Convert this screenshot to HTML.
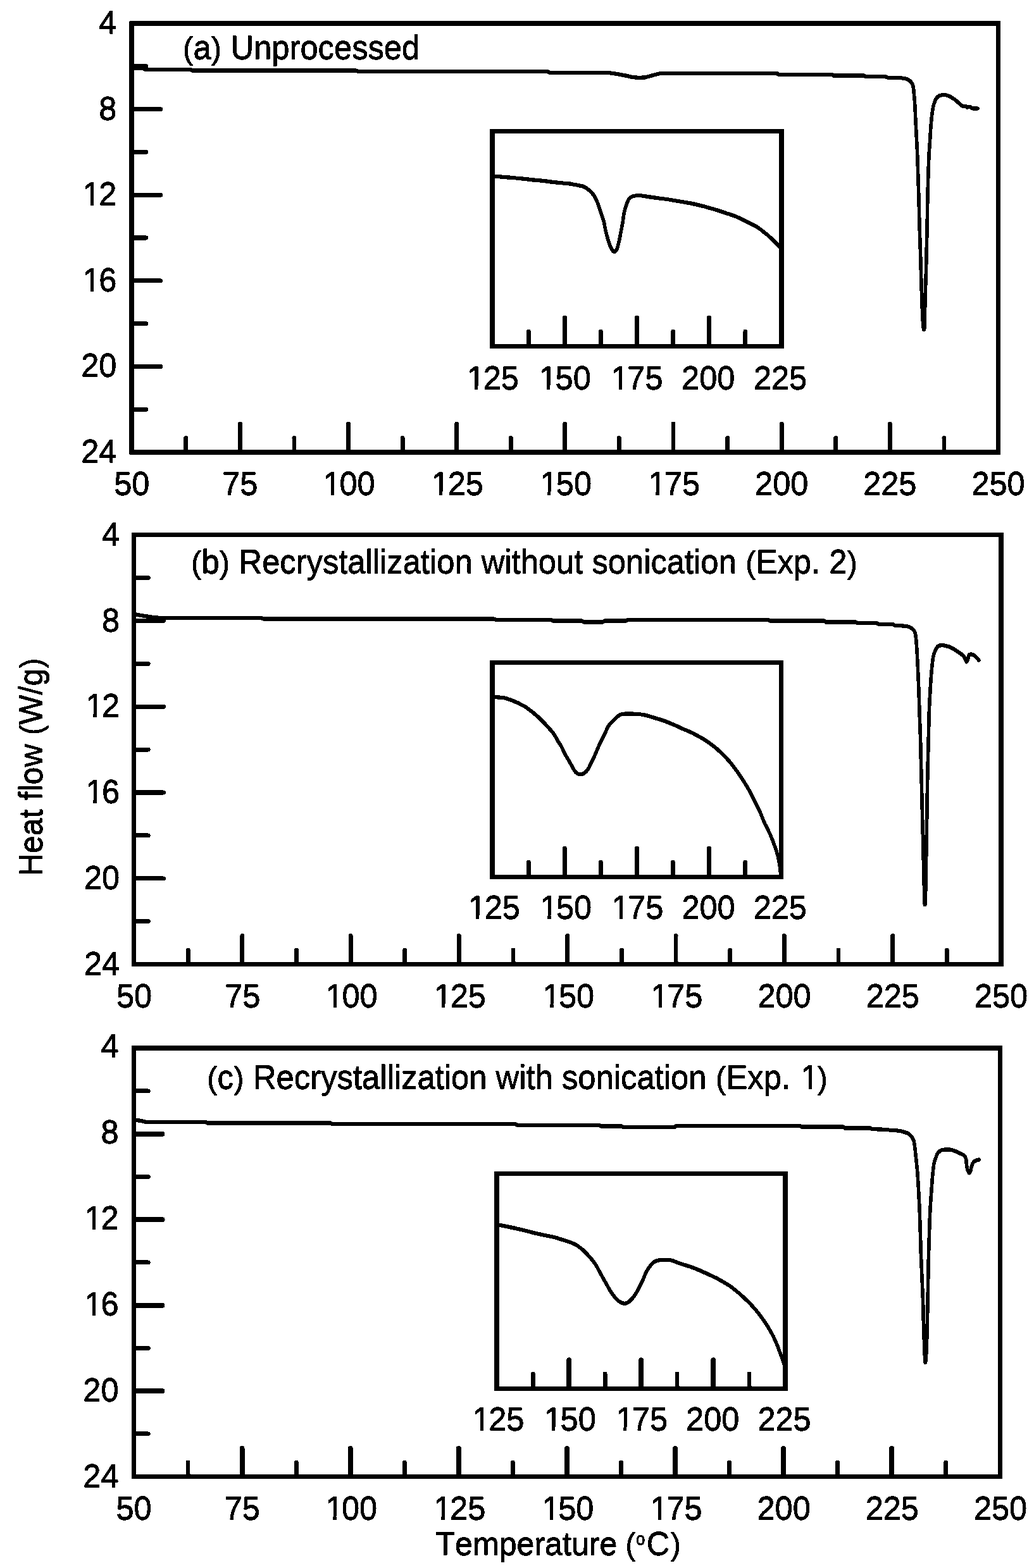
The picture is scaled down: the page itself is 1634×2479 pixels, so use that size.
<!DOCTYPE html>
<html lang="en">
<head>
<meta charset="utf-8">
<title>DSC thermograms: heat flow versus temperature</title>
<style>
html,body{margin:0;padding:0;background:#fff;}
body{width:1634px;height:2479px;overflow:hidden;}
svg{display:block;}
text{font-family:"Liberation Sans",sans-serif;fill:#000;stroke:#000;stroke-width:0.3px;stroke-linejoin:round;font-kerning:none;font-variant-ligatures:none;filter:url(#tb);}
</style>
</head>
<body>
<svg width="1634" height="2479" viewBox="0 0 1634 2479">
<defs>
<filter id="tb" x="-5%" y="-30%" width="110%" height="160%" color-interpolation-filters="sRGB">
<feOffset in="SourceGraphic" dx="0" dy="-0.9" result="o"/>
<feMerge><feMergeNode in="SourceGraphic"/><feMergeNode in="o"/></feMerge>
</filter>
<filter id="cs" x="0" y="0" width="1634" height="2479" filterUnits="userSpaceOnUse" color-interpolation-filters="sRGB">
<feOffset in="SourceGraphic" dx="0" dy="-0.8" result="o"/>
<feMerge><feMergeNode in="SourceGraphic"/><feMergeNode in="o"/></feMerge>
</filter>
<filter id="bw" x="0" y="0" width="1634" height="2479" filterUnits="userSpaceOnUse" color-interpolation-filters="sRGB">
<feComponentTransfer>
<feFuncR type="discrete" tableValues="0 1"/>
<feFuncG type="discrete" tableValues="0 1"/>
<feFuncB type="discrete" tableValues="0 1"/>
</feComponentTransfer>
</filter>
</defs>
<g filter="url(#bw)">
<rect x="0" y="0" width="1634" height="2479" fill="#fff"/>
<path d="M208.0,107.5L226.0,108.0L229.0,110.0L301.0,110.0L303.0,111.6L563.0,111.6L565.0,112.7L865.0,112.9L868.0,114.8L960.0,114.9L968.0,116.0L976.0,117.2L988.0,119.5L1000.0,122.3L1010.0,123.0L1020.0,122.4L1030.0,119.5L1041.0,116.6L1050.0,116.0L1228.0,116.0L1230.0,117.9L1315.0,117.9L1317.0,119.8L1366.0,119.8L1368.0,121.2L1399.4,121.3L1402.2,122.6L1420.7,123.1C1422.2,123.3 1427.5,123.6 1430.0,124.1C1432.5,124.6 1433.8,125.2 1435.5,126.3C1437.2,127.4 1438.9,128.9 1440.1,130.5C1441.3,132.1 1442.2,133.5 1442.9,136.1C1443.6,138.7 1443.7,141.5 1444.2,146.3C1444.7,151.1 1445.2,157.1 1445.7,164.8C1446.2,172.5 1446.5,183.2 1447.0,192.5C1447.5,201.8 1448.0,211.1 1448.5,220.3C1449.0,229.6 1449.4,237.2 1449.8,248.0C1450.2,258.8 1450.6,272.7 1451.0,285.0C1451.4,297.3 1451.9,309.7 1452.2,322.0C1452.5,334.3 1452.7,346.7 1453.1,359.0C1453.5,371.3 1454.0,383.7 1454.4,396.0C1454.8,408.3 1455.1,420.7 1455.5,433.0C1455.9,445.3 1456.2,459.2 1456.6,470.0C1457.0,480.8 1457.3,489.8 1457.7,497.8C1458.1,505.8 1458.8,514.2 1459.2,518.1C1459.6,522.0 1459.6,520.9 1459.9,520.9C1460.2,520.9 1460.7,522.0 1460.9,518.1C1461.2,514.2 1461.2,505.8 1461.4,497.8C1461.6,489.8 1461.8,480.8 1462.1,470.0C1462.4,459.2 1462.9,445.3 1463.3,433.0C1463.7,420.7 1463.9,408.3 1464.2,396.0C1464.5,383.7 1464.8,371.3 1465.1,359.0C1465.3,346.7 1465.5,334.3 1465.7,322.0C1466.0,309.7 1466.2,297.3 1466.6,285.0C1467.0,272.7 1467.4,258.8 1467.9,248.0C1468.4,237.2 1469.1,229.6 1469.7,220.3C1470.3,211.1 1470.8,200.8 1471.6,192.5C1472.4,184.2 1473.5,175.6 1474.4,170.3C1475.3,165.1 1476.2,163.5 1477.1,161.0C1478.0,158.5 1478.8,157.0 1479.9,155.5C1481.0,154.0 1482.2,152.7 1483.6,151.8C1485.0,150.9 1486.3,150.6 1488.2,150.3C1490.1,150.1 1492.7,150.0 1494.7,150.3C1496.7,150.6 1498.5,151.3 1500.3,152.2C1502.1,153.1 1503.9,154.3 1505.8,155.5C1507.7,156.7 1509.6,158.0 1511.4,159.6C1513.2,161.2 1515.4,163.5 1516.9,164.8C1518.4,166.1 1519.0,166.9 1520.6,167.5C1522.1,168.1 1524.8,167.7 1526.2,168.1C1527.6,168.5 1527.8,169.8 1528.9,169.9C1530.0,170.0 1531.4,168.6 1532.6,168.8C1533.8,169.0 1534.2,170.7 1536.3,171.2C1538.4,171.7 1543.7,171.5 1545.2,171.6" transform="translate(0,0.40)" fill="none" stroke="#000" stroke-width="5.2" stroke-linejoin="round" stroke-linecap="round" filter="url(#cs)"/>
<rect x="208.20" y="36.90" width="1369.30" height="678.20" fill="none" stroke="#000" stroke-width="7.4" stroke-linejoin="miter"/>
<line x1="293.78" y1="711.70" x2="293.78" y2="692.30" stroke="#000" stroke-width="6.8" stroke-linecap="round"/>
<line x1="379.36" y1="711.70" x2="379.36" y2="669.80" stroke="#000" stroke-width="6.8" stroke-linecap="round"/>
<line x1="464.94" y1="711.70" x2="464.94" y2="692.30" stroke="#000" stroke-width="6.8" stroke-linecap="round"/>
<line x1="550.52" y1="711.70" x2="550.52" y2="669.80" stroke="#000" stroke-width="6.8" stroke-linecap="round"/>
<line x1="636.11" y1="711.70" x2="636.11" y2="692.30" stroke="#000" stroke-width="6.8" stroke-linecap="round"/>
<line x1="721.69" y1="711.70" x2="721.69" y2="669.80" stroke="#000" stroke-width="6.8" stroke-linecap="round"/>
<line x1="807.27" y1="711.70" x2="807.27" y2="692.30" stroke="#000" stroke-width="6.8" stroke-linecap="round"/>
<line x1="892.85" y1="711.70" x2="892.85" y2="669.80" stroke="#000" stroke-width="6.8" stroke-linecap="round"/>
<line x1="978.43" y1="711.70" x2="978.43" y2="692.30" stroke="#000" stroke-width="6.8" stroke-linecap="round"/>
<line x1="1064.01" y1="711.70" x2="1064.01" y2="669.80" stroke="#000" stroke-width="6.8" stroke-linecap="round"/>
<line x1="1149.59" y1="711.70" x2="1149.59" y2="692.30" stroke="#000" stroke-width="6.8" stroke-linecap="round"/>
<line x1="1235.17" y1="711.70" x2="1235.17" y2="669.80" stroke="#000" stroke-width="6.8" stroke-linecap="round"/>
<line x1="1320.76" y1="711.70" x2="1320.76" y2="692.30" stroke="#000" stroke-width="6.8" stroke-linecap="round"/>
<line x1="1406.34" y1="711.70" x2="1406.34" y2="669.80" stroke="#000" stroke-width="6.8" stroke-linecap="round"/>
<line x1="1491.92" y1="711.70" x2="1491.92" y2="692.30" stroke="#000" stroke-width="6.8" stroke-linecap="round"/>
<line x1="211.60" y1="104.72" x2="231.00" y2="104.72" stroke="#000" stroke-width="6.8" stroke-linecap="round"/>
<line x1="211.60" y1="172.54" x2="253.80" y2="172.54" stroke="#000" stroke-width="6.8" stroke-linecap="round"/>
<line x1="211.60" y1="240.36" x2="231.00" y2="240.36" stroke="#000" stroke-width="6.8" stroke-linecap="round"/>
<line x1="211.60" y1="308.18" x2="253.80" y2="308.18" stroke="#000" stroke-width="6.8" stroke-linecap="round"/>
<line x1="211.60" y1="376.00" x2="231.00" y2="376.00" stroke="#000" stroke-width="6.8" stroke-linecap="round"/>
<line x1="211.60" y1="443.82" x2="253.80" y2="443.82" stroke="#000" stroke-width="6.8" stroke-linecap="round"/>
<line x1="211.60" y1="511.64" x2="231.00" y2="511.64" stroke="#000" stroke-width="6.8" stroke-linecap="round"/>
<line x1="211.60" y1="579.46" x2="253.80" y2="579.46" stroke="#000" stroke-width="6.8" stroke-linecap="round"/>
<line x1="211.60" y1="647.28" x2="231.00" y2="647.28" stroke="#000" stroke-width="6.8" stroke-linecap="round"/>
<text transform="translate(208.20,783.00) scale(1,1.04)" text-anchor="middle" font-size="50.5">50</text>
<text transform="translate(379.36,783.00) scale(1,1.04)" text-anchor="middle" font-size="50.5">75</text>
<g transform="translate(550.52,783.00) scale(1,1.04)"><text x="-1.20" text-anchor="middle" font-size="50.5"><tspan dx="2.4">1</tspan><tspan dx="-2.4">00</tspan></text><rect x="-36.83" y="-5.72" width="9.15" height="7.37" fill="#fff"/><rect x="-22.42" y="-5.72" width="9.26" height="7.37" fill="#fff"/></g>
<g transform="translate(721.69,783.00) scale(1,1.04)"><text x="-1.20" text-anchor="middle" font-size="50.5"><tspan dx="2.4">1</tspan><tspan dx="-2.4">25</tspan></text><rect x="-36.83" y="-5.72" width="9.15" height="7.37" fill="#fff"/><rect x="-22.42" y="-5.72" width="9.26" height="7.37" fill="#fff"/></g>
<g transform="translate(892.85,783.00) scale(1,1.04)"><text x="-1.20" text-anchor="middle" font-size="50.5"><tspan dx="2.4">1</tspan><tspan dx="-2.4">50</tspan></text><rect x="-36.83" y="-5.72" width="9.15" height="7.37" fill="#fff"/><rect x="-22.42" y="-5.72" width="9.26" height="7.37" fill="#fff"/></g>
<g transform="translate(1064.01,783.00) scale(1,1.04)"><text x="-1.20" text-anchor="middle" font-size="50.5"><tspan dx="2.4">1</tspan><tspan dx="-2.4">75</tspan></text><rect x="-36.83" y="-5.72" width="9.15" height="7.37" fill="#fff"/><rect x="-22.42" y="-5.72" width="9.26" height="7.37" fill="#fff"/></g>
<text transform="translate(1235.17,783.00) scale(1,1.04)" text-anchor="middle" font-size="50.5">200</text>
<text transform="translate(1406.34,783.00) scale(1,1.04)" text-anchor="middle" font-size="50.5">225</text>
<text transform="translate(1577.50,783.00) scale(1,1.04)" text-anchor="middle" font-size="50.5">250</text>
<text transform="translate(184.40,54.00) scale(1,1.04)" text-anchor="end" font-size="50.5">4</text>
<text transform="translate(184.40,189.54) scale(1,1.04)" text-anchor="end" font-size="50.5">8</text>
<g transform="translate(184.40,325.08) scale(1,1.04)"><text x="-2.40" text-anchor="end" font-size="50.5"><tspan dx="2.4">1</tspan><tspan dx="-2.4">2</tspan></text><rect x="-50.87" y="-5.72" width="9.15" height="7.37" fill="#fff"/><rect x="-36.46" y="-5.72" width="9.26" height="7.37" fill="#fff"/></g>
<g transform="translate(184.40,460.62) scale(1,1.04)"><text x="-2.40" text-anchor="end" font-size="50.5"><tspan dx="2.4">1</tspan><tspan dx="-2.4">6</tspan></text><rect x="-50.87" y="-5.72" width="9.15" height="7.37" fill="#fff"/><rect x="-36.46" y="-5.72" width="9.26" height="7.37" fill="#fff"/></g>
<text transform="translate(184.40,596.16) scale(1,1.04)" text-anchor="end" font-size="50.5">20</text>
<text transform="translate(184.40,731.70) scale(1,1.04)" text-anchor="end" font-size="50.5">24</text>
<text transform="translate(288.50,93.75) scale(1,1.04)" text-anchor="start" font-size="50.7"><tspan dx="0.46" font-size="47.91">(</tspan><tspan dx="0.46">a</tspan><tspan dx="0.46" font-size="47.91">)</tspan><tspan dx="0.46"> Unprocessed</tspan></text>
<clipPath id="ca"><rect x="778.1" y="207.7" width="456.9" height="340.09999999999997"/></clipPath>
<g clip-path="url(#ca)"><path d="M778.0,279.0C780.1,279.1 785.7,279.1 790.7,279.5C795.8,279.9 802.7,280.6 808.3,281.1C813.9,281.6 818.8,281.8 824.3,282.4C829.8,282.9 835.5,283.8 841.2,284.4C847.0,285.0 854.3,285.5 858.8,286.0C863.3,286.5 864.0,286.7 868.0,287.2C872.0,287.7 877.7,288.5 882.5,289.0C887.3,289.5 892.7,289.8 897.0,290.3C901.3,290.8 904.5,291.4 908.5,292.1C912.5,292.8 917.6,293.7 920.8,294.7C924.0,295.7 925.7,296.8 927.7,298.2C929.7,299.6 931.2,301.0 933.0,302.8C934.8,304.6 936.9,306.7 938.4,308.9C939.9,311.1 941.1,313.4 942.2,315.8C943.4,318.2 944.3,320.7 945.3,323.5C946.3,326.3 947.3,329.6 948.3,332.7C949.3,335.8 950.4,338.8 951.4,341.8C952.4,344.9 953.6,347.7 954.4,351.0C955.2,354.3 955.6,358.1 956.4,361.7C957.2,365.3 958.1,369.1 959.0,372.4C959.9,375.7 960.7,378.8 961.6,381.6C962.5,384.4 963.4,387.0 964.4,389.3C965.4,391.6 966.4,393.9 967.5,395.4C968.6,396.9 969.7,398.2 970.8,398.2C971.9,398.2 973.3,397.1 974.3,395.4C975.3,393.7 975.8,390.6 976.6,387.8C977.4,385.0 978.2,381.9 978.9,378.6C979.6,375.3 980.2,371.5 980.9,367.9C981.6,364.3 982.5,360.4 983.1,357.1C983.7,353.8 984.2,351.1 984.6,348.0C985.0,344.9 985.2,341.9 985.8,338.8C986.4,335.7 987.2,332.7 988.1,329.6C989.0,326.5 990.2,322.9 991.2,320.4C992.2,317.8 992.8,315.9 994.2,314.3C995.6,312.7 997.7,311.3 999.6,310.5C1001.5,309.7 1004.1,309.7 1005.7,309.4C1007.3,309.1 1006.8,308.7 1009.2,308.9C1011.6,309.1 1015.0,309.8 1019.9,310.5C1024.8,311.2 1031.9,312.2 1038.3,313.1C1044.7,314.0 1051.8,314.8 1058.2,315.8C1064.6,316.8 1070.4,317.8 1076.5,318.9C1082.6,320.0 1088.8,320.9 1094.9,322.2C1101.0,323.5 1107.2,324.9 1113.3,326.5C1119.4,328.1 1125.5,330.0 1131.6,331.9C1137.7,333.8 1144.4,336.1 1150.0,338.0C1155.6,339.9 1160.2,341.2 1165.3,343.4C1170.4,345.6 1175.5,348.4 1180.6,351.0C1185.7,353.6 1191.3,355.9 1195.9,358.7C1200.5,361.5 1204.4,364.8 1208.2,367.9C1212.0,370.9 1215.9,374.2 1218.9,377.0C1222.0,379.8 1224.5,382.6 1226.5,384.7C1228.5,386.8 1229.5,387.8 1231.1,389.3C1232.7,390.9 1235.2,393.2 1236.0,394.0" transform="translate(0,0.40)" fill="none" stroke="#000" stroke-width="5.2" stroke-linejoin="round" stroke-linecap="round" filter="url(#cs)"/></g>
<rect x="778.10" y="207.70" width="456.90" height="340.10" fill="none" stroke="#000" stroke-width="7.4" stroke-linejoin="miter"/>
<line x1="835.21" y1="544.40" x2="835.21" y2="524.20" stroke="#000" stroke-width="6.8" stroke-linecap="round"/>
<line x1="892.33" y1="544.20" x2="892.33" y2="502.10" stroke="#000" stroke-width="7.2" stroke-linecap="round"/>
<line x1="949.44" y1="544.40" x2="949.44" y2="524.20" stroke="#000" stroke-width="6.8" stroke-linecap="round"/>
<line x1="1006.55" y1="544.20" x2="1006.55" y2="502.10" stroke="#000" stroke-width="7.2" stroke-linecap="round"/>
<line x1="1063.66" y1="544.40" x2="1063.66" y2="524.20" stroke="#000" stroke-width="6.8" stroke-linecap="round"/>
<line x1="1120.78" y1="544.20" x2="1120.78" y2="502.10" stroke="#000" stroke-width="7.2" stroke-linecap="round"/>
<line x1="1177.89" y1="544.40" x2="1177.89" y2="524.20" stroke="#000" stroke-width="6.8" stroke-linecap="round"/>
<g transform="translate(777.80,615.60) scale(1,1.04)"><text x="-1.20" text-anchor="middle" font-size="50.5"><tspan dx="2.4">1</tspan><tspan dx="-2.4">25</tspan></text><rect x="-36.83" y="-5.72" width="9.15" height="7.37" fill="#fff"/><rect x="-22.42" y="-5.72" width="9.26" height="7.37" fill="#fff"/></g>
<g transform="translate(891.60,615.60) scale(1,1.04)"><text x="-1.20" text-anchor="middle" font-size="50.5"><tspan dx="2.4">1</tspan><tspan dx="-2.4">50</tspan></text><rect x="-36.83" y="-5.72" width="9.15" height="7.37" fill="#fff"/><rect x="-22.42" y="-5.72" width="9.26" height="7.37" fill="#fff"/></g>
<g transform="translate(1005.40,615.60) scale(1,1.04)"><text x="-1.20" text-anchor="middle" font-size="50.5"><tspan dx="2.4">1</tspan><tspan dx="-2.4">75</tspan></text><rect x="-36.83" y="-5.72" width="9.15" height="7.37" fill="#fff"/><rect x="-22.42" y="-5.72" width="9.26" height="7.37" fill="#fff"/></g>
<text transform="translate(1119.20,615.60) scale(1,1.04)" text-anchor="middle" font-size="50.5">200</text>
<text transform="translate(1233.00,615.60) scale(1,1.04)" text-anchor="middle" font-size="50.5">225</text>
<path d="M211.5,971.0L225.0,973.5L245.0,976.5L262.0,977.3L414.0,977.3L416.0,978.6L781.0,978.6L783.0,979.8L872.0,980.2L874.0,981.7L920.0,981.7L922.0,983.4L953.0,983.4L955.0,981.7L989.0,981.7L991.0,980.2L1215.0,980.2L1217.0,981.7L1303.0,981.7L1305.0,983.6L1353.0,983.6L1355.0,985.2L1386.0,985.4L1388.0,986.8L1411.5,987.3L1413.6,988.8L1425.2,989.4C1426.8,989.6 1432.0,989.8 1434.6,990.5C1437.2,991.2 1439.1,992.2 1440.9,993.6C1442.7,995.0 1444.4,996.1 1445.5,998.9C1446.6,1001.7 1447.0,1004.6 1447.6,1010.4C1448.2,1016.2 1448.8,1024.4 1449.3,1033.5C1449.8,1042.6 1450.3,1054.5 1450.8,1065.0C1451.3,1075.5 1451.7,1086.1 1452.1,1096.6C1452.5,1107.1 1452.7,1115.8 1453.1,1128.1C1453.5,1140.3 1454.2,1156.1 1454.6,1170.1C1455.0,1184.1 1455.2,1198.1 1455.6,1212.1C1455.9,1226.1 1456.3,1240.1 1456.7,1254.1C1457.1,1268.1 1457.4,1282.1 1457.7,1296.1C1458.0,1310.1 1458.5,1324.2 1458.8,1338.2C1459.1,1352.2 1459.4,1366.2 1459.8,1380.2C1460.2,1394.2 1460.6,1413.8 1460.9,1422.2C1461.2,1430.6 1461.2,1430.6 1461.5,1430.6C1461.8,1430.6 1462.1,1430.6 1462.4,1422.2C1462.7,1413.8 1462.9,1394.2 1463.2,1380.2C1463.5,1366.2 1463.8,1352.2 1464.0,1338.2C1464.2,1324.2 1464.5,1310.1 1464.7,1296.1C1464.9,1282.1 1465.1,1268.1 1465.3,1254.1C1465.5,1240.1 1465.8,1226.1 1466.1,1212.1C1466.4,1198.1 1466.8,1184.1 1467.2,1170.1C1467.6,1156.1 1467.8,1140.3 1468.2,1128.1C1468.6,1115.8 1469.1,1107.1 1469.7,1096.6C1470.3,1086.1 1471.0,1074.5 1471.8,1065.0C1472.6,1055.5 1473.5,1045.8 1474.5,1039.8C1475.5,1033.8 1476.7,1031.9 1477.7,1029.3C1478.7,1026.7 1479.4,1025.5 1480.4,1024.1C1481.5,1022.7 1482.2,1021.5 1484.0,1020.9C1485.8,1020.3 1488.7,1020.2 1491.3,1020.5C1493.9,1020.8 1496.9,1021.6 1499.7,1022.6C1502.5,1023.6 1505.4,1025.1 1508.2,1026.8C1511.0,1028.5 1514.1,1030.7 1516.6,1032.5C1519.0,1034.3 1521.3,1035.8 1522.9,1037.7C1524.5,1039.6 1525.2,1042.5 1526.0,1044.0C1526.8,1045.5 1526.9,1046.9 1527.5,1046.6C1528.1,1046.2 1529.0,1043.7 1529.6,1041.9C1530.2,1040.1 1530.3,1036.8 1531.3,1035.6C1532.3,1034.4 1533.9,1034.3 1535.5,1034.6C1537.1,1034.9 1538.8,1035.7 1540.7,1037.3C1542.6,1038.9 1546.0,1042.9 1547.0,1044.0" transform="translate(0,0.40)" fill="none" stroke="#000" stroke-width="5.2" stroke-linejoin="round" stroke-linecap="round" filter="url(#cs)"/>
<rect x="211.50" y="845.60" width="1370.50" height="679.00" fill="none" stroke="#000" stroke-width="7.4" stroke-linejoin="miter"/>
<line x1="297.16" y1="1521.20" x2="297.16" y2="1501.80" stroke="#000" stroke-width="6.8" stroke-linecap="round"/>
<line x1="382.81" y1="1521.20" x2="382.81" y2="1479.30" stroke="#000" stroke-width="6.8" stroke-linecap="round"/>
<line x1="468.47" y1="1521.20" x2="468.47" y2="1501.80" stroke="#000" stroke-width="6.8" stroke-linecap="round"/>
<line x1="554.12" y1="1521.20" x2="554.12" y2="1479.30" stroke="#000" stroke-width="6.8" stroke-linecap="round"/>
<line x1="639.78" y1="1521.20" x2="639.78" y2="1501.80" stroke="#000" stroke-width="6.8" stroke-linecap="round"/>
<line x1="725.44" y1="1521.20" x2="725.44" y2="1479.30" stroke="#000" stroke-width="6.8" stroke-linecap="round"/>
<line x1="811.09" y1="1521.20" x2="811.09" y2="1501.80" stroke="#000" stroke-width="6.8" stroke-linecap="round"/>
<line x1="896.75" y1="1521.20" x2="896.75" y2="1479.30" stroke="#000" stroke-width="6.8" stroke-linecap="round"/>
<line x1="982.41" y1="1521.20" x2="982.41" y2="1501.80" stroke="#000" stroke-width="6.8" stroke-linecap="round"/>
<line x1="1068.06" y1="1521.20" x2="1068.06" y2="1479.30" stroke="#000" stroke-width="6.8" stroke-linecap="round"/>
<line x1="1153.72" y1="1521.20" x2="1153.72" y2="1501.80" stroke="#000" stroke-width="6.8" stroke-linecap="round"/>
<line x1="1239.38" y1="1521.20" x2="1239.38" y2="1479.30" stroke="#000" stroke-width="6.8" stroke-linecap="round"/>
<line x1="1325.03" y1="1521.20" x2="1325.03" y2="1501.80" stroke="#000" stroke-width="6.8" stroke-linecap="round"/>
<line x1="1410.69" y1="1521.20" x2="1410.69" y2="1479.30" stroke="#000" stroke-width="6.8" stroke-linecap="round"/>
<line x1="1496.34" y1="1521.20" x2="1496.34" y2="1501.80" stroke="#000" stroke-width="6.8" stroke-linecap="round"/>
<line x1="214.90" y1="913.50" x2="234.30" y2="913.50" stroke="#000" stroke-width="6.8" stroke-linecap="round"/>
<line x1="214.90" y1="981.40" x2="258.60" y2="981.40" stroke="#000" stroke-width="6.8" stroke-linecap="round"/>
<line x1="214.90" y1="1049.30" x2="234.30" y2="1049.30" stroke="#000" stroke-width="6.8" stroke-linecap="round"/>
<line x1="214.90" y1="1117.20" x2="258.60" y2="1117.20" stroke="#000" stroke-width="6.8" stroke-linecap="round"/>
<line x1="214.90" y1="1185.10" x2="234.30" y2="1185.10" stroke="#000" stroke-width="6.8" stroke-linecap="round"/>
<line x1="214.90" y1="1253.00" x2="258.60" y2="1253.00" stroke="#000" stroke-width="6.8" stroke-linecap="round"/>
<line x1="214.90" y1="1320.90" x2="234.30" y2="1320.90" stroke="#000" stroke-width="6.8" stroke-linecap="round"/>
<line x1="214.90" y1="1388.80" x2="258.60" y2="1388.80" stroke="#000" stroke-width="6.8" stroke-linecap="round"/>
<line x1="214.90" y1="1456.70" x2="234.30" y2="1456.70" stroke="#000" stroke-width="6.8" stroke-linecap="round"/>
<text transform="translate(212.00,1593.00) scale(1,1.04)" text-anchor="middle" font-size="50.5">50</text>
<text transform="translate(383.25,1593.00) scale(1,1.04)" text-anchor="middle" font-size="50.5">75</text>
<g transform="translate(554.50,1593.00) scale(1,1.04)"><text x="-1.20" text-anchor="middle" font-size="50.5"><tspan dx="2.4">1</tspan><tspan dx="-2.4">00</tspan></text><rect x="-36.83" y="-5.72" width="9.15" height="7.37" fill="#fff"/><rect x="-22.42" y="-5.72" width="9.26" height="7.37" fill="#fff"/></g>
<g transform="translate(725.75,1593.00) scale(1,1.04)"><text x="-1.20" text-anchor="middle" font-size="50.5"><tspan dx="2.4">1</tspan><tspan dx="-2.4">25</tspan></text><rect x="-36.83" y="-5.72" width="9.15" height="7.37" fill="#fff"/><rect x="-22.42" y="-5.72" width="9.26" height="7.37" fill="#fff"/></g>
<g transform="translate(897.00,1593.00) scale(1,1.04)"><text x="-1.20" text-anchor="middle" font-size="50.5"><tspan dx="2.4">1</tspan><tspan dx="-2.4">50</tspan></text><rect x="-36.83" y="-5.72" width="9.15" height="7.37" fill="#fff"/><rect x="-22.42" y="-5.72" width="9.26" height="7.37" fill="#fff"/></g>
<g transform="translate(1068.25,1593.00) scale(1,1.04)"><text x="-1.20" text-anchor="middle" font-size="50.5"><tspan dx="2.4">1</tspan><tspan dx="-2.4">75</tspan></text><rect x="-36.83" y="-5.72" width="9.15" height="7.37" fill="#fff"/><rect x="-22.42" y="-5.72" width="9.26" height="7.37" fill="#fff"/></g>
<text transform="translate(1239.50,1593.00) scale(1,1.04)" text-anchor="middle" font-size="50.5">200</text>
<text transform="translate(1410.75,1593.00) scale(1,1.04)" text-anchor="middle" font-size="50.5">225</text>
<text transform="translate(1582.00,1593.00) scale(1,1.04)" text-anchor="middle" font-size="50.5">250</text>
<text transform="translate(189.20,862.70) scale(1,1.04)" text-anchor="end" font-size="50.5">4</text>
<text transform="translate(189.20,998.50) scale(1,1.04)" text-anchor="end" font-size="50.5">8</text>
<g transform="translate(189.20,1134.30) scale(1,1.04)"><text x="-2.40" text-anchor="end" font-size="50.5"><tspan dx="2.4">1</tspan><tspan dx="-2.4">2</tspan></text><rect x="-50.87" y="-5.72" width="9.15" height="7.37" fill="#fff"/><rect x="-36.46" y="-5.72" width="9.26" height="7.37" fill="#fff"/></g>
<g transform="translate(189.20,1270.10) scale(1,1.04)"><text x="-2.40" text-anchor="end" font-size="50.5"><tspan dx="2.4">1</tspan><tspan dx="-2.4">6</tspan></text><rect x="-50.87" y="-5.72" width="9.15" height="7.37" fill="#fff"/><rect x="-36.46" y="-5.72" width="9.26" height="7.37" fill="#fff"/></g>
<text transform="translate(189.20,1405.90) scale(1,1.04)" text-anchor="end" font-size="50.5">20</text>
<text transform="translate(189.20,1541.70) scale(1,1.04)" text-anchor="end" font-size="50.5">24</text>
<text transform="translate(301.50,906.80) scale(1,1.04)" text-anchor="start" font-size="50.7"><tspan dx="0.46" font-size="47.91">(</tspan><tspan dx="0.46">b</tspan><tspan dx="0.46" font-size="47.91">)</tspan><tspan dx="0.46"> Recrystallization without sonication </tspan><tspan dx="0.46" font-size="47.91">(</tspan><tspan dx="0.46">Exp. 2</tspan><tspan dx="0.46" font-size="47.91">)</tspan></text>
<clipPath id="cb"><rect x="778.2" y="1047.7" width="456.39999999999986" height="339.0999999999999"/></clipPath>
<g clip-path="url(#cb)"><path d="M778.0,1102.0C780.8,1102.2 790.4,1102.5 794.5,1103.0C798.6,1103.5 800.1,1104.4 802.9,1105.3C805.7,1106.2 808.4,1107.1 811.3,1108.3C814.2,1109.5 817.2,1110.7 820.5,1112.4C823.8,1114.1 827.9,1116.2 831.2,1118.3C834.5,1120.4 837.3,1122.8 840.4,1125.2C843.5,1127.6 846.5,1130.0 849.6,1132.8C852.7,1135.6 855.7,1138.8 858.8,1142.0C861.9,1145.2 865.2,1148.7 868.0,1151.9C870.8,1155.1 873.3,1157.8 875.6,1161.1C877.9,1164.4 879.7,1168.3 881.7,1171.8C883.8,1175.2 886.1,1178.5 887.9,1181.8C889.7,1185.1 890.9,1188.5 892.5,1191.7C894.1,1194.9 896.0,1197.8 897.8,1200.9C899.6,1204.0 901.5,1207.2 903.2,1210.1C904.9,1213.0 906.3,1216.3 907.8,1218.5C909.3,1220.7 910.6,1222.1 912.3,1223.1C913.9,1224.0 915.9,1224.3 917.7,1224.2C919.5,1224.1 921.2,1224.0 923.1,1222.7C925.0,1221.4 927.4,1218.8 929.2,1216.2C931.0,1213.6 932.3,1210.0 933.8,1207.0C935.3,1204.0 936.9,1201.2 938.4,1197.9C939.9,1194.6 941.5,1190.7 943.0,1187.1C944.5,1183.5 946.1,1179.7 947.6,1176.4C949.1,1173.1 950.6,1170.2 952.1,1167.2C953.6,1164.2 955.2,1161.3 956.7,1158.1C958.2,1154.9 959.5,1150.9 961.3,1148.1C963.1,1145.3 965.3,1143.4 967.4,1141.2C969.5,1139.0 971.5,1136.9 973.6,1135.1C975.7,1133.3 977.4,1131.3 979.7,1130.2C982.0,1129.1 984.0,1129.0 987.3,1128.7C990.6,1128.5 994.8,1128.5 999.6,1128.7C1004.4,1128.9 1010.5,1129.1 1015.9,1130.0C1021.3,1130.9 1026.6,1132.8 1031.9,1134.3C1037.2,1135.8 1042.5,1137.2 1047.8,1139.1C1053.1,1140.9 1058.5,1143.2 1063.8,1145.4C1069.1,1147.7 1074.4,1150.2 1079.7,1152.6C1085.0,1155.0 1090.4,1157.1 1095.7,1159.8C1101.0,1162.5 1106.3,1165.3 1111.6,1168.6C1116.9,1171.9 1122.8,1176.0 1127.6,1179.7C1132.4,1183.4 1136.0,1186.8 1140.3,1190.9C1144.5,1195.0 1148.8,1199.4 1153.1,1204.4C1157.3,1209.5 1162.1,1216.0 1165.8,1221.2C1169.5,1226.4 1172.2,1230.5 1175.4,1235.5C1178.6,1240.5 1182.1,1246.2 1185.0,1251.5C1187.9,1256.8 1190.2,1262.1 1192.9,1267.4C1195.6,1272.7 1198.5,1278.1 1200.9,1283.4C1203.3,1288.7 1205.2,1294.5 1207.3,1299.3C1209.4,1304.1 1211.6,1307.6 1213.7,1312.1C1215.8,1316.6 1218.2,1321.9 1220.0,1326.4C1221.8,1330.9 1223.3,1335.0 1224.8,1339.2C1226.3,1343.5 1227.7,1347.9 1228.8,1351.9C1229.9,1355.9 1230.5,1359.4 1231.2,1363.1C1231.9,1366.8 1232.3,1370.4 1232.8,1374.2C1233.3,1378.0 1233.8,1384.0 1234.0,1386.0" transform="translate(0,0.40)" fill="none" stroke="#000" stroke-width="5.2" stroke-linejoin="round" stroke-linecap="round" filter="url(#cs)"/></g>
<rect x="778.20" y="1047.70" width="456.40" height="339.10" fill="none" stroke="#000" stroke-width="7.4" stroke-linejoin="miter"/>
<line x1="835.25" y1="1383.40" x2="835.25" y2="1363.20" stroke="#000" stroke-width="6.8" stroke-linecap="round"/>
<line x1="892.30" y1="1383.40" x2="892.30" y2="1340.90" stroke="#000" stroke-width="6.8" stroke-linecap="round"/>
<line x1="949.35" y1="1383.40" x2="949.35" y2="1363.20" stroke="#000" stroke-width="6.8" stroke-linecap="round"/>
<line x1="1006.40" y1="1383.40" x2="1006.40" y2="1340.90" stroke="#000" stroke-width="6.8" stroke-linecap="round"/>
<line x1="1063.45" y1="1383.40" x2="1063.45" y2="1363.20" stroke="#000" stroke-width="6.8" stroke-linecap="round"/>
<line x1="1120.50" y1="1383.40" x2="1120.50" y2="1340.90" stroke="#000" stroke-width="6.8" stroke-linecap="round"/>
<line x1="1177.55" y1="1383.40" x2="1177.55" y2="1363.20" stroke="#000" stroke-width="6.8" stroke-linecap="round"/>
<g transform="translate(779.70,1452.90) scale(1,1.04)"><text x="-1.20" text-anchor="middle" font-size="50.5"><tspan dx="2.4">1</tspan><tspan dx="-2.4">25</tspan></text><rect x="-36.83" y="-5.72" width="9.15" height="7.37" fill="#fff"/><rect x="-22.42" y="-5.72" width="9.26" height="7.37" fill="#fff"/></g>
<g transform="translate(892.98,1452.90) scale(1,1.04)"><text x="-1.20" text-anchor="middle" font-size="50.5"><tspan dx="2.4">1</tspan><tspan dx="-2.4">50</tspan></text><rect x="-36.83" y="-5.72" width="9.15" height="7.37" fill="#fff"/><rect x="-22.42" y="-5.72" width="9.26" height="7.37" fill="#fff"/></g>
<g transform="translate(1006.25,1452.90) scale(1,1.04)"><text x="-1.20" text-anchor="middle" font-size="50.5"><tspan dx="2.4">1</tspan><tspan dx="-2.4">75</tspan></text><rect x="-36.83" y="-5.72" width="9.15" height="7.37" fill="#fff"/><rect x="-22.42" y="-5.72" width="9.26" height="7.37" fill="#fff"/></g>
<text transform="translate(1119.53,1452.90) scale(1,1.04)" text-anchor="middle" font-size="50.5">200</text>
<text transform="translate(1232.80,1452.90) scale(1,1.04)" text-anchor="middle" font-size="50.5">225</text>
<path d="M211.5,1770.5L222.0,1772.0L232.0,1774.3L326.0,1774.3L328.0,1775.8L523.0,1775.8L525.0,1777.2L815.0,1777.2L817.0,1779.0L947.0,1779.0L949.0,1780.6L983.0,1780.6L985.0,1782.1L1066.0,1782.1L1068.0,1780.3L1265.0,1780.3L1267.0,1781.8L1333.0,1781.8L1335.0,1783.6L1376.0,1783.6L1378.0,1785.2L1401.7,1785.9L1405.3,1786.6L1417.9,1787.5C1419.4,1787.8 1424.3,1788.5 1427.0,1789.2C1429.7,1789.9 1432.1,1790.5 1434.2,1791.7C1436.3,1792.9 1438.0,1794.4 1439.6,1796.2C1441.2,1798.0 1442.6,1799.9 1443.6,1802.5C1444.6,1805.1 1444.8,1807.4 1445.4,1811.6C1446.0,1815.8 1446.5,1821.2 1447.2,1827.8C1447.9,1834.4 1448.9,1842.9 1449.6,1851.3C1450.3,1859.7 1450.8,1867.9 1451.4,1878.4C1452.0,1888.9 1452.7,1902.5 1453.2,1914.5C1453.7,1926.5 1454.0,1938.7 1454.4,1950.7C1454.8,1962.8 1455.0,1974.8 1455.5,1986.8C1456.0,1998.8 1456.6,2010.9 1457.1,2022.9C1457.6,2035.0 1458.2,2047.0 1458.6,2059.1C1459.0,2071.1 1459.1,2083.2 1459.5,2095.2C1459.9,2107.2 1460.4,2122.3 1460.8,2131.3C1461.2,2140.3 1461.4,2145.5 1461.7,2149.4C1462.0,2153.3 1462.2,2154.5 1462.4,2154.5C1462.6,2154.5 1462.8,2153.3 1463.1,2149.4C1463.4,2145.5 1463.8,2140.3 1464.2,2131.3C1464.6,2122.3 1465.0,2107.2 1465.3,2095.2C1465.6,2083.2 1465.8,2071.1 1466.0,2059.1C1466.2,2047.0 1466.5,2035.0 1466.7,2022.9C1466.9,2010.9 1467.1,1998.8 1467.4,1986.8C1467.7,1974.8 1468.1,1962.8 1468.5,1950.7C1468.9,1938.7 1469.3,1925.0 1469.8,1914.5C1470.3,1904.0 1471.0,1896.4 1471.6,1887.4C1472.2,1878.4 1472.9,1868.1 1473.6,1860.3C1474.3,1852.5 1475.0,1845.3 1475.8,1840.5C1476.6,1835.7 1477.6,1834.1 1478.5,1831.4C1479.4,1828.7 1480.2,1826.1 1481.2,1824.2C1482.2,1822.3 1483.5,1821.2 1484.8,1820.2C1486.1,1819.2 1487.2,1818.4 1489.3,1817.9C1491.4,1817.5 1494.8,1817.4 1497.4,1817.5C1500.0,1817.6 1502.3,1817.8 1504.7,1818.4C1507.1,1819.0 1509.5,1820.1 1511.9,1821.1C1514.3,1822.1 1517.0,1823.5 1519.1,1824.6C1521.2,1825.7 1523.2,1826.4 1524.5,1827.8C1525.8,1829.2 1526.2,1830.5 1526.7,1833.2C1527.2,1835.9 1527.2,1840.9 1527.8,1844.1C1528.3,1847.3 1529.3,1850.5 1530.0,1852.2C1530.7,1854.0 1531.1,1854.8 1531.8,1854.6C1532.5,1854.4 1533.3,1853.0 1533.9,1851.3C1534.5,1849.5 1534.7,1846.3 1535.4,1844.1C1536.1,1841.8 1537.0,1839.3 1538.1,1837.8C1539.1,1836.3 1540.2,1835.7 1541.7,1835.0C1543.2,1834.3 1546.2,1833.8 1547.1,1833.6" transform="translate(0,0.40)" fill="none" stroke="#000" stroke-width="5.2" stroke-linejoin="round" stroke-linecap="round" filter="url(#cs)"/>
<rect x="211.50" y="1657.20" width="1368.80" height="677.40" fill="none" stroke="#000" stroke-width="7.4" stroke-linejoin="miter"/>
<line x1="297.05" y1="2331.20" x2="297.05" y2="2311.80" stroke="#000" stroke-width="6.8" stroke-linecap="round"/>
<line x1="382.60" y1="2330.70" x2="382.60" y2="2289.80" stroke="#000" stroke-width="7.8" stroke-linecap="round"/>
<line x1="468.15" y1="2331.20" x2="468.15" y2="2311.80" stroke="#000" stroke-width="6.8" stroke-linecap="round"/>
<line x1="553.70" y1="2330.70" x2="553.70" y2="2289.80" stroke="#000" stroke-width="7.8" stroke-linecap="round"/>
<line x1="639.25" y1="2331.20" x2="639.25" y2="2311.80" stroke="#000" stroke-width="6.8" stroke-linecap="round"/>
<line x1="724.80" y1="2330.70" x2="724.80" y2="2289.80" stroke="#000" stroke-width="7.8" stroke-linecap="round"/>
<line x1="810.35" y1="2331.20" x2="810.35" y2="2311.80" stroke="#000" stroke-width="6.8" stroke-linecap="round"/>
<line x1="895.90" y1="2330.70" x2="895.90" y2="2289.80" stroke="#000" stroke-width="7.8" stroke-linecap="round"/>
<line x1="981.45" y1="2331.20" x2="981.45" y2="2311.80" stroke="#000" stroke-width="6.8" stroke-linecap="round"/>
<line x1="1067.00" y1="2330.70" x2="1067.00" y2="2289.80" stroke="#000" stroke-width="7.8" stroke-linecap="round"/>
<line x1="1152.55" y1="2331.20" x2="1152.55" y2="2311.80" stroke="#000" stroke-width="6.8" stroke-linecap="round"/>
<line x1="1238.10" y1="2330.70" x2="1238.10" y2="2289.80" stroke="#000" stroke-width="7.8" stroke-linecap="round"/>
<line x1="1323.65" y1="2331.20" x2="1323.65" y2="2311.80" stroke="#000" stroke-width="6.8" stroke-linecap="round"/>
<line x1="1409.20" y1="2330.70" x2="1409.20" y2="2289.80" stroke="#000" stroke-width="7.8" stroke-linecap="round"/>
<line x1="1494.75" y1="2331.20" x2="1494.75" y2="2311.80" stroke="#000" stroke-width="6.8" stroke-linecap="round"/>
<line x1="214.90" y1="1724.94" x2="234.30" y2="1724.94" stroke="#000" stroke-width="6.8" stroke-linecap="round"/>
<line x1="215.40" y1="1792.68" x2="256.60" y2="1792.68" stroke="#000" stroke-width="7.8" stroke-linecap="round"/>
<line x1="214.90" y1="1860.42" x2="234.30" y2="1860.42" stroke="#000" stroke-width="6.8" stroke-linecap="round"/>
<line x1="215.40" y1="1928.16" x2="256.60" y2="1928.16" stroke="#000" stroke-width="7.8" stroke-linecap="round"/>
<line x1="214.90" y1="1995.90" x2="234.30" y2="1995.90" stroke="#000" stroke-width="6.8" stroke-linecap="round"/>
<line x1="215.40" y1="2063.64" x2="256.60" y2="2063.64" stroke="#000" stroke-width="7.8" stroke-linecap="round"/>
<line x1="214.90" y1="2131.38" x2="234.30" y2="2131.38" stroke="#000" stroke-width="6.8" stroke-linecap="round"/>
<line x1="215.40" y1="2199.12" x2="256.60" y2="2199.12" stroke="#000" stroke-width="7.8" stroke-linecap="round"/>
<line x1="214.90" y1="2266.86" x2="234.30" y2="2266.86" stroke="#000" stroke-width="6.8" stroke-linecap="round"/>
<text transform="translate(211.60,2403.00) scale(1,1.04)" text-anchor="middle" font-size="50.5">50</text>
<text transform="translate(382.77,2403.00) scale(1,1.04)" text-anchor="middle" font-size="50.5">75</text>
<g transform="translate(553.95,2403.00) scale(1,1.04)"><text x="-1.20" text-anchor="middle" font-size="50.5"><tspan dx="2.4">1</tspan><tspan dx="-2.4">00</tspan></text><rect x="-36.83" y="-5.72" width="9.15" height="7.37" fill="#fff"/><rect x="-22.42" y="-5.72" width="9.26" height="7.37" fill="#fff"/></g>
<g transform="translate(725.13,2403.00) scale(1,1.04)"><text x="-1.20" text-anchor="middle" font-size="50.5"><tspan dx="2.4">1</tspan><tspan dx="-2.4">25</tspan></text><rect x="-36.83" y="-5.72" width="9.15" height="7.37" fill="#fff"/><rect x="-22.42" y="-5.72" width="9.26" height="7.37" fill="#fff"/></g>
<g transform="translate(896.30,2403.00) scale(1,1.04)"><text x="-1.20" text-anchor="middle" font-size="50.5"><tspan dx="2.4">1</tspan><tspan dx="-2.4">50</tspan></text><rect x="-36.83" y="-5.72" width="9.15" height="7.37" fill="#fff"/><rect x="-22.42" y="-5.72" width="9.26" height="7.37" fill="#fff"/></g>
<g transform="translate(1067.47,2403.00) scale(1,1.04)"><text x="-1.20" text-anchor="middle" font-size="50.5"><tspan dx="2.4">1</tspan><tspan dx="-2.4">75</tspan></text><rect x="-36.83" y="-5.72" width="9.15" height="7.37" fill="#fff"/><rect x="-22.42" y="-5.72" width="9.26" height="7.37" fill="#fff"/></g>
<text transform="translate(1238.65,2403.00) scale(1,1.04)" text-anchor="middle" font-size="50.5">200</text>
<text transform="translate(1409.83,2403.00) scale(1,1.04)" text-anchor="middle" font-size="50.5">225</text>
<text transform="translate(1581.00,2403.00) scale(1,1.04)" text-anchor="middle" font-size="50.5">250</text>
<text transform="translate(187.50,1671.70) scale(1,1.04)" text-anchor="end" font-size="50.5">4</text>
<text transform="translate(187.50,1807.70) scale(1,1.04)" text-anchor="end" font-size="50.5">8</text>
<g transform="translate(187.50,1943.70) scale(1,1.04)"><text x="-2.40" text-anchor="end" font-size="50.5"><tspan dx="2.4">1</tspan><tspan dx="-2.4">2</tspan></text><rect x="-50.87" y="-5.72" width="9.15" height="7.37" fill="#fff"/><rect x="-36.46" y="-5.72" width="9.26" height="7.37" fill="#fff"/></g>
<g transform="translate(187.50,2079.70) scale(1,1.04)"><text x="-2.40" text-anchor="end" font-size="50.5"><tspan dx="2.4">1</tspan><tspan dx="-2.4">6</tspan></text><rect x="-50.87" y="-5.72" width="9.15" height="7.37" fill="#fff"/><rect x="-36.46" y="-5.72" width="9.26" height="7.37" fill="#fff"/></g>
<text transform="translate(187.50,2215.70) scale(1,1.04)" text-anchor="end" font-size="50.5">20</text>
<text transform="translate(187.50,2351.70) scale(1,1.04)" text-anchor="end" font-size="50.5">24</text>
<g transform="translate(326.70,1722.00) scale(1,1.04)"><text text-anchor="start" font-size="50.77"><tspan dx="0.46" font-size="47.98">(</tspan><tspan dx="0.46">c</tspan><tspan dx="0.46" font-size="47.98">)</tspan><tspan dx="0.46"> Recrystallization with sonication </tspan><tspan dx="0.46" font-size="47.98">(</tspan><tspan dx="0.46">Exp. </tspan><tspan dx="2.4">1</tspan><tspan dx="-1.94" font-size="47.98">)</tspan></text><rect x="942.03" y="-5.74" width="9.20" height="7.39" fill="#fff"/><rect x="956.52" y="-5.74" width="9.30" height="7.39" fill="#fff"/></g>
<clipPath id="cc"><rect x="785.2" y="1855.7" width="455.79999999999995" height="339.79999999999995"/></clipPath>
<g clip-path="url(#cc)"><path d="M785.0,1936.2C787.5,1936.7 794.6,1937.9 799.9,1939.0C805.2,1940.1 811.6,1941.4 816.7,1942.6C821.8,1943.8 825.6,1944.7 830.5,1945.9C835.4,1947.1 840.9,1948.6 845.8,1949.7C850.6,1950.8 854.8,1951.8 859.6,1952.8C864.5,1953.8 870.3,1954.8 874.9,1955.9C879.5,1957.1 883.0,1958.4 887.1,1959.7C891.2,1961.0 895.6,1962.1 899.4,1963.5C903.2,1964.9 907.0,1966.4 910.1,1968.1C913.2,1969.8 915.2,1971.5 917.8,1973.5C920.3,1975.5 922.8,1977.9 925.4,1980.4C928.0,1983.0 930.5,1985.8 933.1,1988.8C935.7,1991.8 938.4,1995.3 940.7,1998.7C943.0,2002.1 944.8,2005.7 946.8,2009.4C948.8,2013.1 951.0,2017.2 953.0,2020.9C955.0,2024.6 957.1,2028.0 959.1,2031.6C961.1,2035.2 963.2,2039.1 965.2,2042.3C967.2,2045.5 969.3,2048.4 971.3,2050.8C973.3,2053.2 975.3,2055.3 977.4,2056.9C979.5,2058.5 981.7,2059.8 983.6,2060.4C985.5,2061.0 987.1,2061.1 988.9,2060.7C990.7,2060.2 992.4,2059.2 994.3,2057.7C996.2,2056.2 998.4,2054.1 1000.4,2051.5C1002.4,2048.9 1004.5,2045.9 1006.5,2042.3C1008.5,2038.7 1010.9,2033.7 1012.7,2030.1C1014.5,2026.5 1015.8,2024.1 1017.2,2020.9C1018.6,2017.7 1019.5,2014.2 1021.2,2011.0C1022.9,2007.8 1025.4,2004.2 1027.5,2001.5C1029.6,1998.8 1031.5,1996.6 1033.9,1995.1C1036.3,1993.6 1037.7,1992.9 1041.9,1992.4C1046.2,1992.0 1054.1,1991.6 1059.4,1992.4C1064.7,1993.2 1068.8,1995.8 1073.8,1997.5C1078.8,1999.2 1084.4,2000.5 1089.7,2002.3C1095.0,2004.1 1100.4,2006.3 1105.7,2008.6C1111.0,2010.8 1116.3,2013.3 1121.6,2015.8C1126.9,2018.3 1132.3,2020.9 1137.6,2023.8C1142.9,2026.7 1148.2,2029.6 1153.5,2033.3C1158.8,2037.0 1164.6,2042.0 1169.4,2046.1C1174.2,2050.2 1178.2,2054.1 1182.2,2058.1C1186.2,2062.1 1189.7,2065.6 1193.4,2070.0C1197.1,2074.4 1201.0,2079.6 1204.5,2084.4C1208.0,2089.2 1211.2,2093.9 1214.1,2098.7C1217.0,2103.5 1219.7,2108.3 1222.1,2113.1C1224.5,2117.9 1226.6,2122.9 1228.4,2127.4C1230.2,2131.9 1231.7,2136.2 1233.2,2140.2C1234.7,2144.2 1235.9,2147.7 1237.2,2151.3C1238.5,2154.9 1240.4,2160.2 1241.0,2162.0" transform="translate(0,0.40)" fill="none" stroke="#000" stroke-width="5.2" stroke-linejoin="round" stroke-linecap="round" filter="url(#cs)"/></g>
<rect x="785.20" y="1855.70" width="455.80" height="339.80" fill="none" stroke="#000" stroke-width="7.4" stroke-linejoin="miter"/>
<line x1="842.18" y1="2192.10" x2="842.18" y2="2171.90" stroke="#000" stroke-width="6.8" stroke-linecap="round"/>
<line x1="899.15" y1="2191.80" x2="899.15" y2="2149.90" stroke="#000" stroke-width="7.4" stroke-linecap="round"/>
<line x1="956.12" y1="2192.10" x2="956.12" y2="2171.90" stroke="#000" stroke-width="6.8" stroke-linecap="round"/>
<line x1="1013.10" y1="2191.80" x2="1013.10" y2="2149.90" stroke="#000" stroke-width="7.4" stroke-linecap="round"/>
<line x1="1070.08" y1="2192.10" x2="1070.08" y2="2171.90" stroke="#000" stroke-width="6.8" stroke-linecap="round"/>
<line x1="1127.05" y1="2191.80" x2="1127.05" y2="2149.90" stroke="#000" stroke-width="7.4" stroke-linecap="round"/>
<line x1="1184.03" y1="2192.10" x2="1184.03" y2="2171.90" stroke="#000" stroke-width="6.8" stroke-linecap="round"/>
<g transform="translate(786.30,2262.10) scale(1,1.04)"><text x="-1.20" text-anchor="middle" font-size="50.5"><tspan dx="2.4">1</tspan><tspan dx="-2.4">25</tspan></text><rect x="-36.83" y="-5.72" width="9.15" height="7.37" fill="#fff"/><rect x="-22.42" y="-5.72" width="9.26" height="7.37" fill="#fff"/></g>
<g transform="translate(899.60,2262.10) scale(1,1.04)"><text x="-1.20" text-anchor="middle" font-size="50.5"><tspan dx="2.4">1</tspan><tspan dx="-2.4">50</tspan></text><rect x="-36.83" y="-5.72" width="9.15" height="7.37" fill="#fff"/><rect x="-22.42" y="-5.72" width="9.26" height="7.37" fill="#fff"/></g>
<g transform="translate(1012.90,2262.10) scale(1,1.04)"><text x="-1.20" text-anchor="middle" font-size="50.5"><tspan dx="2.4">1</tspan><tspan dx="-2.4">75</tspan></text><rect x="-36.83" y="-5.72" width="9.15" height="7.37" fill="#fff"/><rect x="-22.42" y="-5.72" width="9.26" height="7.37" fill="#fff"/></g>
<text transform="translate(1126.20,2262.10) scale(1,1.04)" text-anchor="middle" font-size="50.5">200</text>
<text transform="translate(1239.50,2262.10) scale(1,1.04)" text-anchor="middle" font-size="50.5">225</text>
<text transform="translate(688.50,2459.00) scale(1,1.04)" text-anchor="start" font-size="50.1">Temperature <tspan dx="-0.74" font-size="47.34">(</tspan><tspan dx="0.76" dy="-15.2" font-size="26.00">o</tspan><tspan dx="2.3" dy="15.2">C</tspan><tspan dx="2.06" font-size="47.34">)</tspan></text>
<text transform="translate(67.20,1385.40) rotate(-90) scale(1,1.04)" text-anchor="start" font-size="50.1">Heat flow <tspan dx="0.46" font-size="47.34">(</tspan><tspan dx="0.46">W/g</tspan><tspan dx="0.46" font-size="47.34">)</tspan></text>
</g>
</svg>
</body>
</html>
